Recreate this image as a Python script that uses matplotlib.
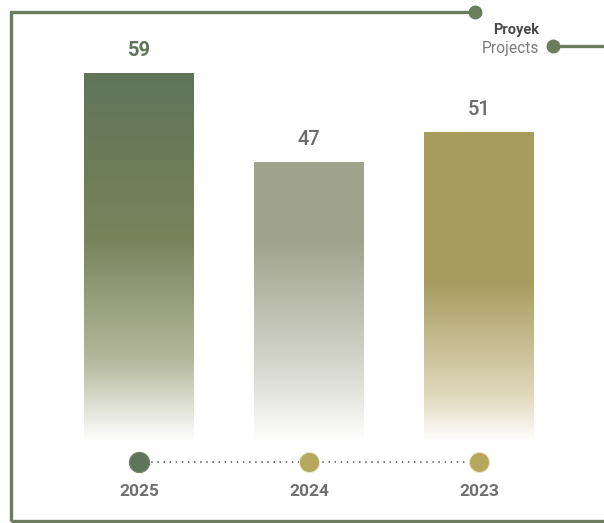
import numpy as np
import matplotlib
matplotlib.use("Agg")
import matplotlib.pyplot as plt
from matplotlib import transforms
from matplotlib.colors import to_rgba

# Data
years = ["2025", "2024", "2023"]
projects = [59, 47, 51]
title_id = "Proyek"
title_en = "Projects"

W, H = 604, 523
DPI = 100
fig = plt.figure(figsize=(W / DPI, H / DPI), dpi=DPI)
fig.patch.set_facecolor("white")
plt.rcParams["font.family"] = ["Roboto", "DejaVu Sans"]

# Overlay axes in pixel coordinates for frame decoration
ov = fig.add_axes([0, 0, 1, 1])
ov.set_xlim(0, W)
ov.set_ylim(H, 0)
ov.axis("off")

frame_c = "#6b7d5c"
ov.plot([11, 11, 475], [521, 12, 12], color=frame_c, lw=2.4, solid_capstyle="butt",
        solid_joinstyle="miter")
ov.plot([11, W], [521, 521], color=frame_c, lw=2.4, solid_capstyle="butt")
ov.plot([475], [12], "o", color=frame_c, ms=9)
ov.plot([553, W], [46, 46], color=frame_c, lw=2.4)
ov.plot([553], [46], "o", color=frame_c, ms=9)
ov.text(539, 30, title_id, ha="right", va="center", fontsize=10.5, fontweight="bold",
        color="#4a4a4a")
ov.text(539, 48, title_en, ha="right", va="center", fontsize=11.2, color="#7a7a7a")

# Main bar axes
ax_left, ax_right = 54, 564
ax_bot, ax_top = 442, 12
ax = fig.add_axes([ax_left / W, (H - ax_bot) / H, (ax_right - ax_left) / W,
                   (ax_bot - ax_top) / H])
ax.set_xlim(-0.5, 2.5)
y0, y1 = 9.2, 67.2
ax.set_ylim(y0, y1)
ax.axis("off")
ax.patch.set_alpha(0)

bar_w = 0.647
gradients = [
    [(0.0, "#5f7459"), (0.45, "#78835a"), (0.78, "#b4b89c"), (1.0, "#ffffff")],
    [(0.0, "#a0a38d"), (0.28, "#9fa38c"), (0.75, "#d8d9d0"), (1.0, "#ffffff")],
    [(0.0, "#a69d5f"), (0.48, "#a69c5e"), (0.85, "#e0d8bc"), (1.0, "#ffffff")],
]

xs = np.arange(len(years))
bars = ax.bar(xs, projects, width=bar_w, bottom=0, color="none", edgecolor="none")
for bar, val, stops in zip(bars, projects, gradients):
    n = 256
    t = np.linspace(0, 1, n)
    pos = [s[0] for s in stops]
    cols = np.array([to_rgba(s[1]) for s in stops])
    img = np.zeros((n, 1, 4))
    for k in range(4):
        img[:, 0, k] = np.interp(t, pos, cols[:, k])
    x0 = bar.get_x()
    im = ax.imshow(img, extent=(x0, x0 + bar_w, y0, val), aspect="auto",
                   origin="upper", zorder=2, interpolation="bilinear")
    im.set_clip_path(bar)

label_styles = [
    dict(color="#5f7459", fontweight="bold"),
    dict(color="#6a6a6a", fontweight="medium"),
    dict(color="#6a6a6a", fontweight="medium"),
]
for x, val, st in zip(xs, projects, label_styles):
    ax.annotate(str(val), (x, val), xytext=(0, 16), textcoords="offset points",
                ha="center", va="center", fontsize=14.5, **st)

# Timeline with year markers
blend = transforms.blended_transform_factory(ax.transData, ov.transData)
ov_line_y = 462
ax.plot([xs[0], xs[-1]], [ov_line_y, ov_line_y], transform=blend, color="#555555",
        lw=1.1, ls=(0, (1, 3)), clip_on=False, zorder=3)
dot_colors = ["#5f7459", "#b5a85c", "#b5a85c"]
for x, c in zip(xs, dot_colors):
    ax.plot([x], [ov_line_y], "o", transform=blend, ms=14.5, color=c,
            markeredgecolor="#ece6cc" if c != "#5f7459" else "#6f8468",
            markeredgewidth=0.8, clip_on=False, zorder=4)
for x, yr in zip(xs, years):
    ax.text(x, 492, yr, transform=blend, ha="center", va="center", fontsize=12.5,
            fontweight="bold", color="#707070")

fig.savefig("out.png", dpi=DPI, facecolor="white")
